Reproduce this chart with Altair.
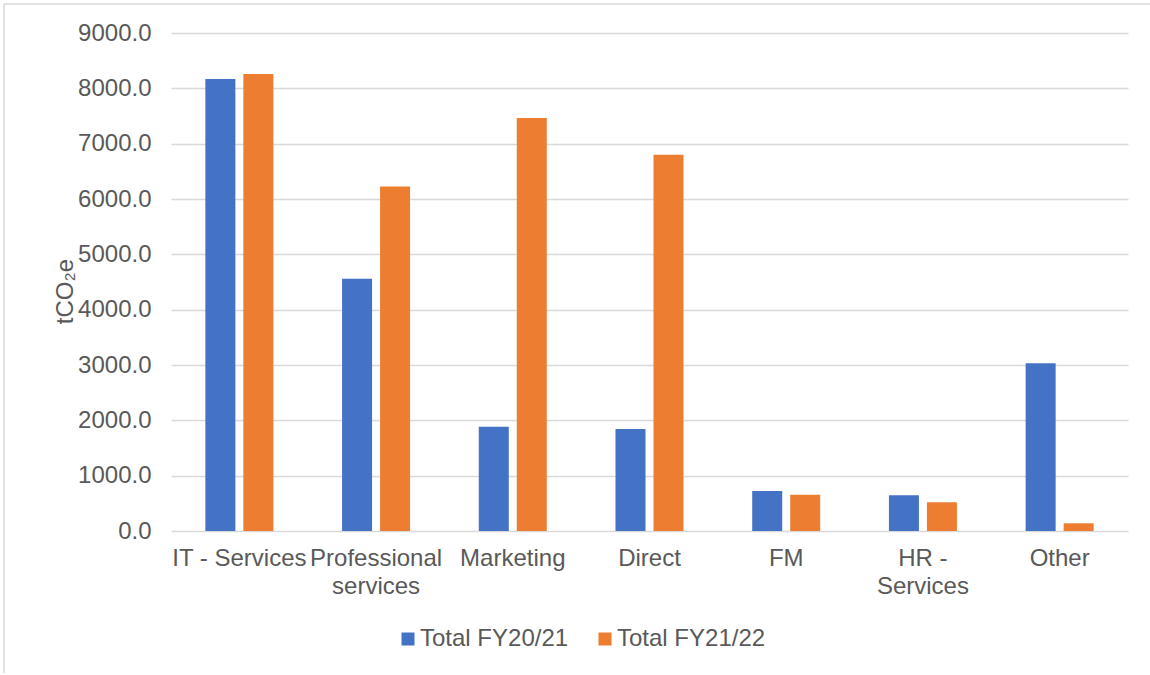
import altair as alt
import pandas as pd

categories = ["IT - Services", "Professional services", "Marketing", "Direct", "FM", "HR - Services", "Other"]
series_names = ["Total FY20/21", "Total FY21/22"]
fy2021 = [8170, 4557, 1886, 1844, 723, 645, 3032]
fy2122 = [8260, 6226, 7463, 6799, 656, 519, 139]
y_ticks = [0, 1000, 2000, 3000, 4000, 5000, 6000, 7000, 8000, 9000]
colors = ["#4472C4", "#ED7D31"]

rows = []
for c, a, b in zip(categories, fy2021, fy2122):
    rows.append({"category": c, "series": series_names[0], "value": a})
    rows.append({"category": c, "series": series_names[1], "value": b})
df = pd.DataFrame(rows)

label_expr = ("datum.label == 'Professional services' ? ['Professional', 'services'] : "
              "datum.label == 'HR - Services' ? ['HR -', 'Services'] : datum.label")

bars = alt.Chart(df).mark_bar().encode(
    x=alt.X("category:N", sort=categories, title=None,
            scale=alt.Scale(paddingInner=0, paddingOuter=0),
            axis=alt.Axis(labelAngle=0, labelExpr=label_expr, labelFontSize=24,
                          labelColor="#595959", labelPadding=15, labelLineHeight=28,
                          labelOverlap=False, labelLimit=0, domain=False, ticks=False,
                          grid=False)),
    xOffset=alt.XOffset("series:N", sort=series_names,
                        scale=alt.Scale(paddingInner=0.2105, paddingOuter=0.904)),
    y=alt.Y("value:Q", title="tCO₂e",
            scale=alt.Scale(domain=[0, 9000], nice=False),
            axis=alt.Axis(values=y_ticks, format=".1f", labelFontSize=24,
                          labelColor="#595959", labelPadding=20, domain=False,
                          ticks=False, gridColor="#D9D9D9", gridWidth=1.5,
                          titleFontSize=24, titleColor="#595959",
                          titleFontWeight="normal", titleX=-106, titleY=258,
                          titleAngle=-90, titleBaseline="middle", titleAlign="center")),
    color=alt.Color("series:N", sort=series_names,
                    scale=alt.Scale(domain=series_names, range=colors),
                    legend=alt.Legend(title=None, orient="none", direction="horizontal",
                                      legendX=225, legendY=594, symbolType="square",
                                      symbolSize=169, symbolStrokeWidth=0,
                                      labelFontSize=24, labelColor="#595959",
                                      labelOffset=0, columnPadding=24)),
)

frame_df = pd.DataFrame({"k": [0]})
frame_left = alt.Chart(frame_df).mark_rule(color="#D9D9D9", strokeWidth=1.5).encode(
    x=alt.value(-167), y=alt.value(-29), y2=alt.value(640))
frame_top = alt.Chart(frame_df).mark_rule(color="#D9D9D9", strokeWidth=1.5).encode(
    x=alt.value(-167), x2=alt.value(980), y=alt.value(-29))

chart = alt.layer(bars, frame_left, frame_top).properties(
    width=957, height=498,
    autosize=alt.AutoSizeParams(type="none"),
    padding={"left": 171, "top": 33, "right": 22, "bottom": 144},
    background="white",
).configure(font="Liberation Sans").configure_view(stroke=None)

chart.save("out.html", embed_options={"renderer": "svg", "actions": False})
